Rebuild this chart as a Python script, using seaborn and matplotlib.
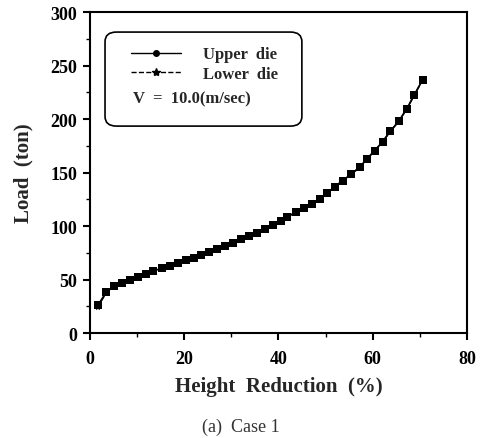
import numpy as np
import pandas as pd
import matplotlib
matplotlib.use("Agg")
import matplotlib.pyplot as plt
import seaborn as sns
from matplotlib.lines import Line2D
from matplotlib.patches import FancyBboxPatch

# data
reduction = [1.7, 3.5, 5.2, 6.9, 8.5, 10.1, 11.8, 13.4, 15.2, 17.0, 18.7, 20.4, 22.0, 23.6,
             25.3, 27.0, 28.7, 30.4, 32.1, 33.8, 35.4, 37.2, 38.8, 40.5, 41.9, 43.7, 45.4,
             47.1, 48.7, 50.3, 52.0, 53.6, 55.4, 57.2, 58.7, 60.4, 62.1, 63.7, 65.5, 67.2,
             68.8, 70.6]
upper_die = [26, 38.5, 44, 47, 50, 52.5, 55, 58, 60.5, 63, 65.5, 68, 70.5, 73,
             75.5, 78.5, 81, 84, 87.5, 90.5, 94, 97.5, 101.5, 105, 108.8, 113, 117,
             121, 125.5, 131, 137, 142.5, 148.5, 155, 162.5, 170.5, 179, 188.5, 198, 209.5,
             222.5, 237]
lower_die = [24.5, 38, 43.5, 46.5, 50, 52.5, 55, 58, 60.5, 63, 65.5, 68, 70.5, 73,
             75.5, 78.5, 81, 84, 87.5, 90.5, 94, 97.5, 101.5, 105, 108.8, 113, 117,
             121, 125.5, 131, 137, 142.5, 148.5, 155, 162.5, 170.5, 179, 188.5, 198, 209.5,
             222.5, 237]

sns.set_style("ticks")
plt.rcParams['font.family'] = ['Liberation Serif', 'DejaVu Serif']

fig = plt.figure(figsize=(4.81, 4.39), dpi=100)
ax = fig.add_axes([0.187, 0.239, 0.784, 0.731])

sns.lineplot(x=reduction, y=upper_die, ax=ax, color='black', linewidth=1.3,
             marker='s', markersize=6, markeredgewidth=0)
sns.lineplot(x=reduction, y=lower_die, ax=ax, color='black', linewidth=1.0,
             linestyle='--', marker='*', markersize=6, markeredgewidth=0)

ax.set_xlim(0, 80)
ax.set_ylim(0, 300)
ax.set_xticks([0, 20, 40, 60, 80])
ax.set_xticks([10, 30, 50, 70], minor=True)
ax.set_yticks([0, 50, 100, 150, 200, 250, 300])
ax.set_yticks([25, 75, 125, 175, 225, 275], minor=True)
ax.tick_params(which='major', direction='out', length=5, width=1.5, colors='black',
               labelsize=13)
ax.tick_params(axis='x', which='major', pad=7)
ax.tick_params(axis='y', which='major', pad=4)
ax.tick_params(which='minor', direction='out', length=3, width=1.0, colors='black')
for lab in ax.get_xticklabels() + ax.get_yticklabels():
    lab.set_fontweight('bold')
for sp in ax.spines.values():
    sp.set_visible(True)
    sp.set_linewidth(1.5)
    sp.set_color('black')

ax.set_xlabel('Height  Reduction  (%)', fontsize=15, fontweight='bold', labelpad=7)
ax.set_ylabel('Load  (ton)', fontsize=15, fontweight='bold', labelpad=12)

# legend box
box = FancyBboxPatch((0.040, 0.645), 0.522, 0.293, transform=ax.transAxes,
                     boxstyle='round,pad=0,rounding_size=0.03', facecolor='white',
                     edgecolor='black', linewidth=1.2, zorder=3)
ax.add_patch(box)
handles = [Line2D([], [], color='black', linewidth=1.0, marker='o', markersize=4),
           Line2D([], [], color='black', linewidth=1.0, linestyle='--', marker='*', markersize=6)]
leg = ax.legend(handles, ['Upper  die', 'Lower  die'], loc='upper left',
                bbox_to_anchor=(0.07, 0.94), frameon=False, handlelength=3.0,
                handletextpad=1.3, labelspacing=0.2,
                prop={'family': 'Liberation Serif', 'weight': 'bold', 'size': 12})
leg.set_zorder(4)
ax.text(0.114, 0.732, 'V  =  10.0(m/sec)', transform=ax.transAxes, fontsize=12,
        fontweight='bold', va='center', ha='left', zorder=5)

fig.text(0.5, 0.027, '(a)  Case 1', ha='center', va='center', fontsize=13, color='#333333')

fig.savefig('out.png', dpi=100)
